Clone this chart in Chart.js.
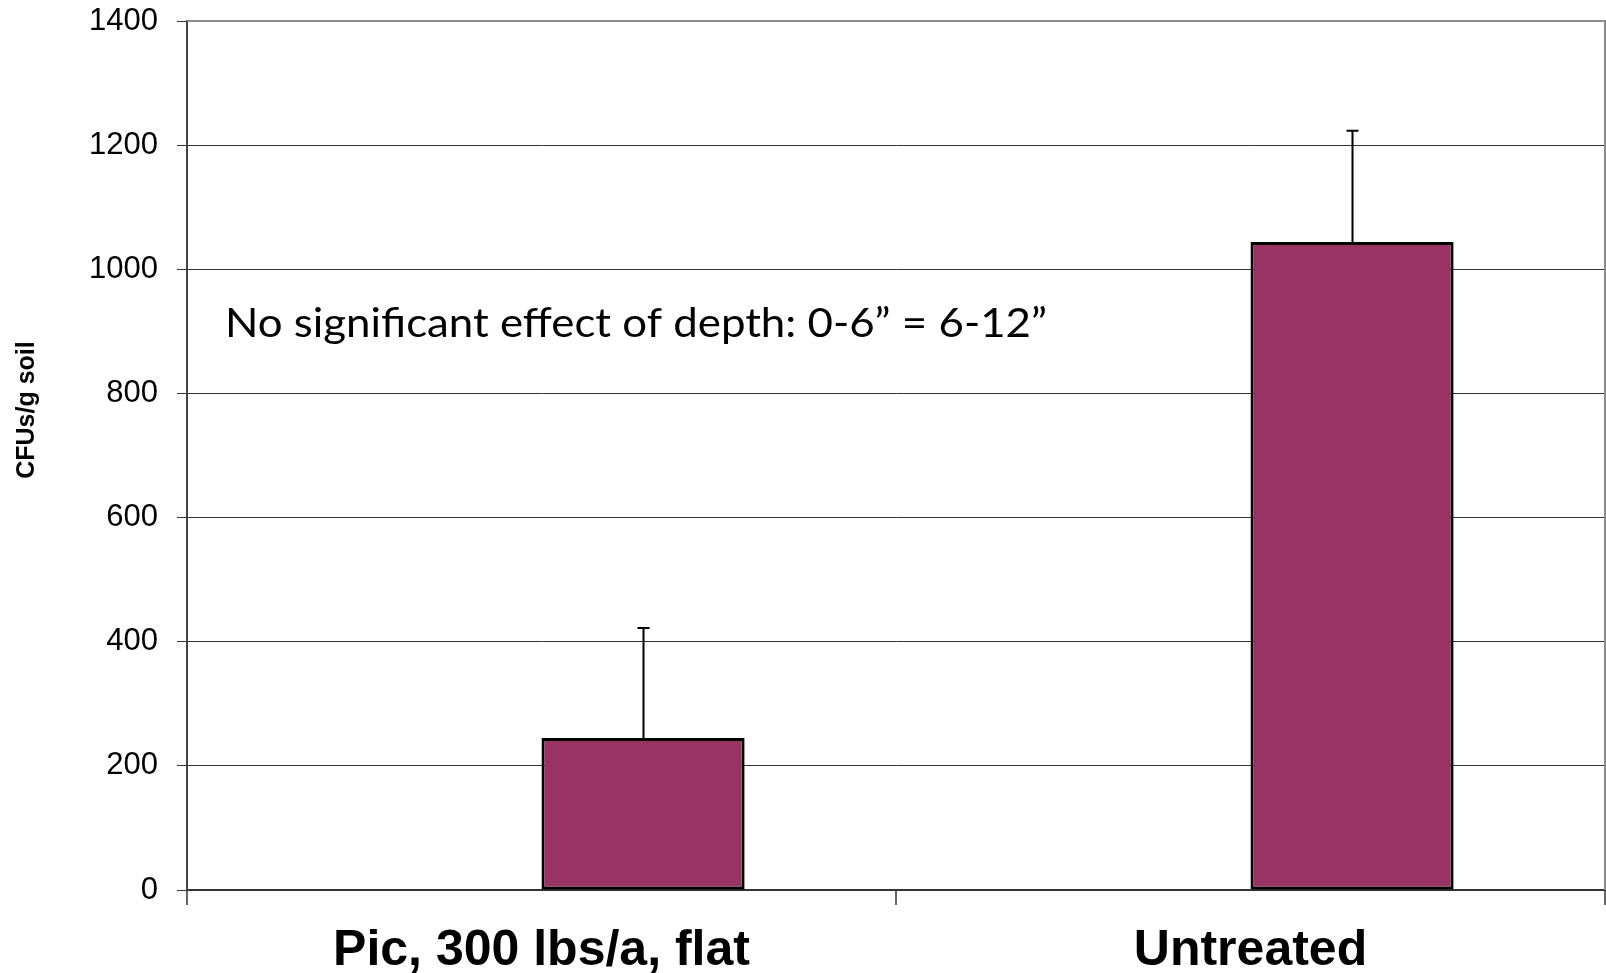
<!DOCTYPE html>
<html>
<head>
<meta charset="utf-8">
<script src="https://cdn.jsdelivr.net/npm/chart.js@4/dist/chart.umd.min.js"></script>
<style>
html,body{margin:0;padding:0;background:#fff;}
#wrap{width:1606px;height:973px;position:relative;}
</style>
</head>
<body>
<div id="wrap"><canvas id="c" width="1606" height="973"></canvas></div>
<script>
const categories = ["Pic, 300 lbs/a, flat", "Untreated"];
const cfuMeans = [245, 1044];
const cfuErrors = [177, 179];
const yTicks = [0, 200, 400, 600, 800, 1000, 1200, 1400];
const yAxisTitle = "CFUs/g soil";
const noteText = "No significant effect of depth: 0-6\u201d = 6-12\u201d";

const errorBarPlugin = {
  id: 'errorBars',
  afterDatasetsDraw(chart) {
    const ctx = chart.ctx;
    const meta = chart.getDatasetMeta(1);
    const y = chart.scales.y;
    ctx.save();
    ctx.strokeStyle = '#000';
    ctx.lineWidth = 2;
    meta.data.forEach((bar, i) => {
      const top = y.getPixelForValue(cfuMeans[i] + cfuErrors[i]);
      const x = Math.round(bar.x) + 0.5;
      ctx.beginPath();
      ctx.moveTo(x, bar.y);
      ctx.lineTo(x, top);
      ctx.moveTo(x - 6, top);
      ctx.lineTo(x + 6, top);
      ctx.stroke();
    });
    ctx.restore();
  }
};

const decorPlugin = {
  id: 'decor',
  afterDraw(chart) {
    const ctx = chart.ctx;
    const a = chart.chartArea;
    ctx.save();
    ctx.strokeStyle = '#8c8c8c';
    ctx.lineWidth = 2;
    ctx.beginPath();
    ctx.moveTo(a.left, a.top);
    ctx.lineTo(a.right, a.top);
    ctx.lineTo(a.right, a.bottom);
    ctx.stroke();
    ctx.fillStyle = '#000';
    ctx.font = 'bold 25px "Liberation Sans", Arial, sans-serif';
    ctx.textAlign = 'center';
    ctx.textBaseline = 'middle';
    ctx.translate(27, 410);
    ctx.rotate(-Math.PI / 2);
    ctx.fillText(yAxisTitle, 0, 0);
    ctx.restore();
    ctx.save();
    ctx.fillStyle = '#000';
    ctx.font = '40px Lato, "Open Sans", sans-serif';
    ctx.textAlign = 'left';
    ctx.textBaseline = 'alphabetic';
    const w = ctx.measureText(noteText).width;
    const sx = 822 / w;
    ctx.translate(225, 337);
    ctx.scale(sx, 1);
    ctx.fillText(noteText, 0, 0);
    ctx.restore();
  }
};

new Chart(document.getElementById('c'), {
  type: 'bar',
  data: {
    labels: categories,
    datasets: [
      { label: 'hidden', data: categories.map(() => null), backgroundColor: '#993366' },
      { label: 'CFUs/g soil', data: cfuMeans, backgroundColor: '#993366', borderColor: '#000', borderWidth: 3, borderSkipped: false }
    ]
  },
  options: {
    responsive: false,
    animation: false,
    devicePixelRatio: 1,
    categoryPercentage: 0.573,
    barPercentage: 1.0,
    layout: { padding: { top: 21, right: 1, left: 0, bottom: 0 } },
    plugins: { legend: { display: false }, tooltip: { enabled: false } },
    scales: {
      x: {
        grid: { display: true, drawOnChartArea: false, drawTicks: true, tickLength: 15, color: '#666', lineWidth: 2, offset: true },
        border: { display: true, color: '#333', width: 2 },
        ticks: { color: '#000', padding: 21, font: { family: '"Liberation Sans", Arial, sans-serif', size: 50, weight: 'bold', lineHeight: 1.0 } },
        afterFit(s) { s.height = 83; s.paddingLeft = 0; s.paddingRight = 0; }
      },
      y: {
        min: 0, max: 1400,
        afterBuildTicks(s) { s.ticks = yTicks.map(v => ({ value: v })); },
        grid: { color: '#333', lineWidth: 1, tickLength: 10, drawTicks: true },
        border: { display: true, color: '#444', width: 2 },
        ticks: { color: '#000', padding: 19, callback: v => String(v), font: { family: '"Liberation Sans", Arial, sans-serif', size: 31, lineHeight: 1.2 } },
        afterFit(s) { s.width = 187; s.paddingTop = 0; s.paddingBottom = 0; }
      }
    }
  },
  plugins: [errorBarPlugin, decorPlugin]
});
</script>
</body>
</html>
